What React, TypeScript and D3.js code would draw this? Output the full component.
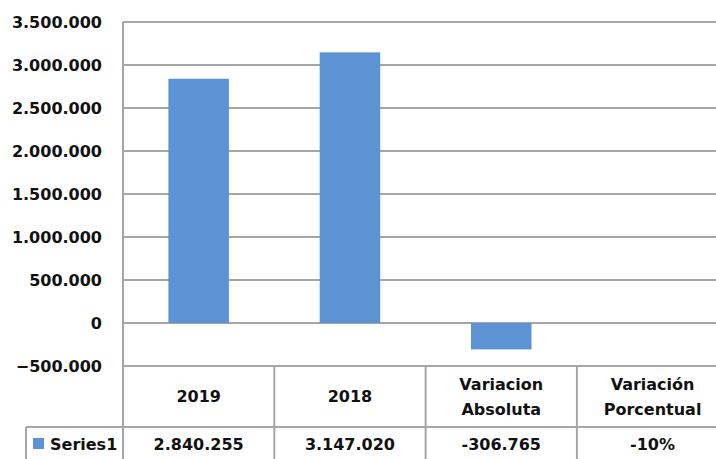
import React from 'react';
import * as d3 from 'd3';

const categories = ['2019', '2018', 'Variacion\nAbsoluta', 'Variación\nPorcentual'];
const values = [2840255, 3147020, -306765, -0.1];
const tableLabels = ['2.840.255', '3.147.020', '-306.765', '-10%'];
const yTicks = [-500000, 0, 500000, 1000000, 1500000, 2000000, 2500000, 3000000, 3500000];
const seriesName = 'Series1';

const W = 716;
const H = 459;
const left = 123;
const catW = 151.3;
const top = 22;
const axisBottom = 366;
const rowSplit = 427;
const legendLeft = 26;

const barColor = '#5b93d5';
const gridColor = '#a6a6a6';
const font = '"DejaVu Sans", Verdana, sans-serif';

const locale = d3.formatLocale({ decimal: ',', thousands: '.', grouping: [3], currency: ['', ''] });
const fmt = locale.format(',d');

export default function App() {
	const x = d3.scaleBand<string>()
	            .domain(categories)
	            .range([left, left + catW * categories.length])
	            .padding(0);

	const y = d3.scaleLinear()
	            .domain([-500000, 3500000])
	            .range([axisBottom, top]);

	const barW = x.bandwidth() * 0.4;

	return (
		<svg width={W} height={H} style={{ position: 'absolute', left: 0, top: 0, background: '#fff' }}>
			{/* gridlines */}
			{yTicks.map(t =>
				<line key={'g' + t} x1={left} x2={W} y1={y(t)} y2={y(t)} stroke={gridColor} strokeWidth={2} />
			)}
			{/* y tick labels */}
			{yTicks.map(t =>
				<text key={'l' + t} x={102} y={y(t)} dy="0.36em" textAnchor="end"
				      fontFamily={font} fontWeight="bold" fontSize={16} fill="#111">{fmt(t)}</text>
			)}
			{/* bars */}
			{categories.map((c, i) => {
				const v = values[i];
				const y0 = y(0), y1 = y(v);
				return <rect key={'b' + i} x={x(c)! + (x.bandwidth() - barW) / 2}
				             y={Math.min(y0, y1)} width={barW} height={Math.abs(y1 - y0)} fill={barColor} />;
			})}
			{/* left axis line */}
			<line x1={left} x2={left} y1={top} y2={H} stroke={gridColor} strokeWidth={2} />
			{/* table lines */}
			<line x1={legendLeft} x2={W} y1={rowSplit} y2={rowSplit} stroke={gridColor} strokeWidth={2} />
			<line x1={legendLeft} x2={legendLeft} y1={rowSplit} y2={H} stroke={gridColor} strokeWidth={2} />
			{categories.slice(1).map(c =>
				<line key={'v' + c} x1={x(c)} x2={x(c)} y1={axisBottom} y2={H} stroke={gridColor} strokeWidth={2} />
			)}
			{/* category headers */}
			{categories.map(c => {
				const lines = c.split('\n');
				const cx = x(c)! + x.bandwidth() / 2;
				const mid = (axisBottom + rowSplit) / 2;
				const lh = 25;
				return (
					<text key={'c' + c} textAnchor="middle" fontFamily={font} fontWeight="bold" fontSize={16} fill="#111">
						{lines.map((l, j) =>
							<tspan key={j} x={cx} y={mid + (j - (lines.length - 1) / 2) * lh} dy="0.36em">{l}</tspan>
						)}
					</text>
				);
			})}
			{/* data row */}
			<rect x={33} y={438} width={11} height={11} fill={barColor} />
			<text x={50} y={444} dy="0.36em" fontFamily={font} fontWeight="bold" fontSize={16} fill="#111">{seriesName}</text>
			{categories.map((c, i) =>
				<text key={'d' + c} x={x(c)! + x.bandwidth() / 2} y={444} dy="0.36em" textAnchor="middle"
				      fontFamily={font} fontWeight="bold" fontSize={16} fill="#111">{tableLabels[i]}</text>
			)}
		</svg>
	);
}
